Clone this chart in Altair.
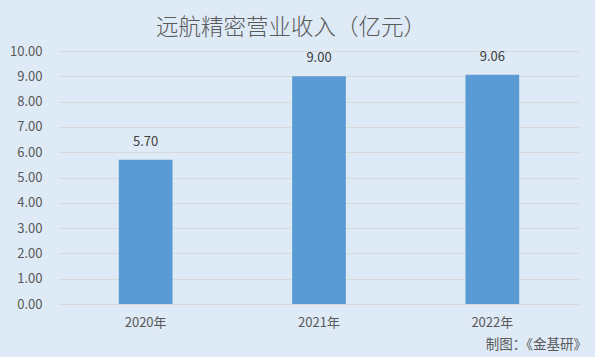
import altair as alt
import pandas as pd

years = ["2020年", "2021年", "2022年"]
revenue = [5.70, 9.00, 9.06]
y_ticks = [0, 1, 2, 3, 4, 5, 6, 7, 8, 9, 10]
title_text = "远航精密营业收入（亿元）"
source_text = "制图：《金基研》"

df = pd.DataFrame({"year": years, "revenue": revenue})
FONT = "Noto Sans CJK SC"
GREY = "#595959"

x_axis = alt.Axis(labelAngle=0, labelFontSize=13, labelColor=GREY, labelFont=FONT,
                  ticks=False, domain=False, labelPadding=12)
y_axis = alt.Axis(values=y_ticks, format=".2f", labelFontSize=13,
                  labelColor=GREY, labelFont=FONT, ticks=False, domain=False,
                  labelOverlap=False, labelPadding=17,
                  gridColor="#D9D9D9", gridWidth=1)
x_scale = alt.Scale(paddingInner=0.69, paddingOuter=0.345)
y_scale = alt.Scale(domain=[0, 10], nice=False)

base = alt.Chart(df)

bars = base.mark_bar(color="#5B9BD5").encode(
    x=alt.X("year:N", sort=years, title=None, scale=x_scale, axis=x_axis),
    y=alt.Y("revenue:Q", title=None, scale=y_scale, axis=y_axis),
)

labels = base.mark_text(baseline="bottom", dy=-11, fontSize=13, color="#404040", font=FONT).encode(
    x=alt.X("year:N", sort=years, title=None, scale=x_scale, axis=x_axis),
    y=alt.Y("revenue:Q", title=None, scale=y_scale, axis=y_axis),
    text=alt.Text("revenue:Q", format=".2f"),
)

title = alt.Chart(pd.DataFrame({"t": [title_text]})).mark_text(
    fontSize=22.5, color=GREY, font=FONT, fontWeight=300, baseline="middle", align="center"
).encode(x=alt.value(232), y=alt.value(-23), text="t:N")

source = alt.Chart(pd.DataFrame({"t": [source_text]})).mark_text(
    fontSize=13.5, color=GREY, font=FONT, baseline="middle", align="right"
).encode(x=alt.value(528), y=alt.value(41 + 253), text="t:N")

chart = alt.layer(bars, labels, title, source).properties(
    width=520, height=253,
    autosize=alt.AutoSizeParams(type="none"),
    padding={"left": 59, "top": 51, "right": 16, "bottom": 53},
    background="#DEEAF6",
).configure_view(stroke=None)

chart.save("out.html", embed_options={"renderer": "svg", "actions": False})
